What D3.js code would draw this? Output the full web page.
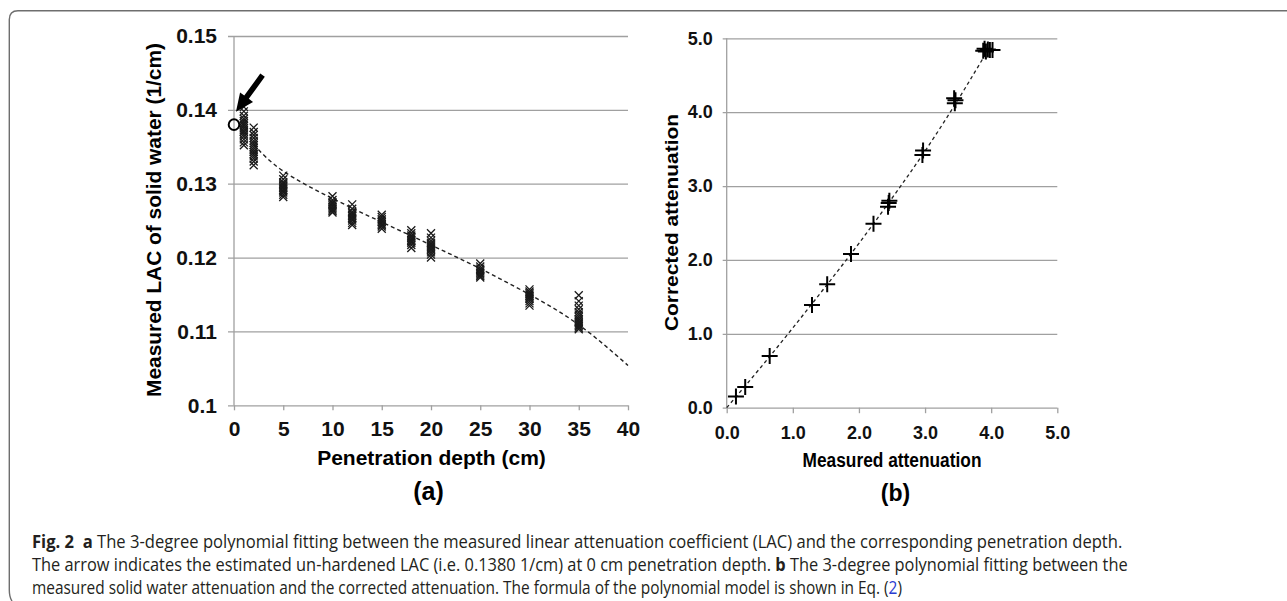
<!DOCTYPE html>
<html>
<head>
<meta charset="UTF-8">
<title>Fig. 2</title>
<script src="https://cdn.jsdelivr.net/npm/d3@7"></script>
<style>
body { margin: 0; background: #fff; }
svg { display: block; font-family: "Liberation Sans", Arial, sans-serif; }
.grid line { stroke: #a0a0a0; stroke-width: 1.3; }
.grid path { display: none; }
.lbl path, .lbl line { display: none; }
.lbl text { font-weight: bold; fill: #111; }
.cap { font-family: "Open Sans", "Noto Sans", sans-serif; font-size: 18.5px; fill: #231f20; white-space: pre; }
</style>
</head>
<body>
<svg width="1287" height="601"></svg>
<script>
// ---- panel (a) data: measured LAC at each penetration depth ----
var depths = [1, 2, 5, 10, 12, 15, 18, 20, 25, 30, 35];
var lacValues = [
  [0.1404, 0.1398, 0.1392, 0.1388, 0.1385, 0.1382, 0.1380, 0.1378, 0.1375, 0.1372, 0.1370, 0.1367, 0.1364, 0.1360, 0.1356, 0.1352],
  [0.1376, 0.1370, 0.1366, 0.1362, 0.1358, 0.1355, 0.1352, 0.1349, 0.1346, 0.1343, 0.1340, 0.1337, 0.1334, 0.1330, 0.1325],
  [0.1311, 0.1306, 0.1302, 0.1300, 0.1298, 0.1296, 0.1294, 0.1292, 0.1290, 0.1288, 0.1285, 0.1282],
  [0.1283, 0.1278, 0.1275, 0.1273, 0.1271, 0.1269, 0.1267, 0.1265, 0.1263, 0.1261],
  [0.1272, 0.1266, 0.1262, 0.1260, 0.1258, 0.1256, 0.1254, 0.1252, 0.1250, 0.1247, 0.1244],
  [0.1258, 0.1255, 0.1252, 0.1250, 0.1248, 0.1246, 0.1244, 0.1242, 0.1239],
  [0.1237, 0.1233, 0.1230, 0.1228, 0.1226, 0.1224, 0.1222, 0.1220, 0.1217, 0.1213],
  [0.1233, 0.1227, 0.1223, 0.1220, 0.1218, 0.1216, 0.1214, 0.1212, 0.1210, 0.1207, 0.1204, 0.1200],
  [0.1192, 0.1188, 0.1185, 0.1183, 0.1181, 0.1179, 0.1177, 0.1175, 0.1173],
  [0.1157, 0.1154, 0.1152, 0.1150, 0.1148, 0.1146, 0.1144, 0.1141, 0.1138, 0.1135],
  [0.1149, 0.1141, 0.1135, 0.1130, 0.1126, 0.1123, 0.1120, 0.1117, 0.1115, 0.1113, 0.1111, 0.1109, 0.1107, 0.1105, 0.1103]
];
// fitted curve (a)
var fitDepth = [2, 5, 10, 15, 20, 25, 30, 35, 40];
var fitLac = [0.1353, 0.1317, 0.1280, 0.1248, 0.1217, 0.1185, 0.1150, 0.1109, 0.1054];
var unhardened = {depth: 0, lac: 0.1380};
var xTicksA = [0, 5, 10, 15, 20, 25, 30, 35, 40];
var yTicksA = [0.1, 0.11, 0.12, 0.13, 0.14, 0.15];
var yLabelsA = ["0.1", "0.11", "0.12", "0.13", "0.14", "0.15"];

// ---- panel (b) data ----
var measured = [0.14, 0.28, 0.65, 1.29, 1.52, 1.88, 2.22, 2.44, 2.45, 2.46, 2.96, 2.97, 3.44, 3.45, 3.46, 3.88, 3.90, 3.92, 3.95, 3.98, 4.02];
var corrected = [0.15, 0.28, 0.70, 1.39, 1.67, 2.08, 2.49, 2.72, 2.77, 2.80, 3.42, 3.48, 4.19, 4.12, 4.16, 4.83, 4.86, 4.82, 4.85, 4.84, 4.84];
var fitMeasured = [0, 0.5, 1.0, 1.5, 2.0, 2.5, 3.0, 3.5, 3.95];
var fitCorrected = [0, 0.53, 1.08, 1.645, 2.225, 2.835, 3.475, 4.17, 4.84];
var ticksB = [0, 1, 2, 3, 4, 5];

var svg = d3.select("svg");

// figure frame (rounded top-left corner, open on the right)
svg.append("path")
    .attr("d", "M1287,10.7 L18,10.7 Q9.3,10.7 9.3,19.5 L9.3,590 Q9.3,597 12,601")
    .attr("fill", "none")
    .attr("stroke", "#6e6e6e")
    .attr("stroke-width", 1.4);

// ================= panel (a) =================
var xA = d3.scaleLinear().domain([0, 40]).range([234, 628]);
var yA = d3.scaleLinear().domain([0.1, 0.15]).range([405.3, 36]);

svg.append("g")
    .attr("class", "grid")
    .attr("transform", "translate(228,0)")
    .call(d3.axisLeft(yA).tickValues(yTicksA).tickSize(-(628 - 228)).tickFormat(""));

svg.append("line")
    .attr("x1", xA(0)).attr("x2", xA(0))
    .attr("y1", yA(0.15)).attr("y2", yA(0.1))
    .attr("stroke", "#a0a0a0").attr("stroke-width", 1.3);

svg.append("g")
    .attr("class", "grid")
    .attr("transform", "translate(0," + yA(0.1) + ")")
    .call(d3.axisBottom(xA).tickValues(xTicksA).tickSize(5).tickFormat(""));

svg.append("g")
    .attr("class", "lbl")
    .attr("transform", "translate(" + xA(0) + ",0)")
    .call(d3.axisLeft(yA).tickValues(yTicksA).tickSize(0).tickPadding(17)
      .tickFormat(function(d, i) { return yLabelsA[i]; }))
    .selectAll("text").style("font-size", "21px");

svg.append("g")
    .attr("class", "lbl")
    .attr("transform", "translate(0," + yA(0.1) + ")")
    .call(d3.axisBottom(xA).tickValues(xTicksA).tickSize(0).tickPadding(16))
    .selectAll("text").style("font-size", "21px");

// fitted dashed curve
var lineA = d3.line()
    .x(function(d, i) { return xA(fitDepth[i]); })
    .y(function(d) { return yA(d); })
    .curve(d3.curveNatural);

svg.append("path")
    .attr("d", lineA(fitLac))
    .attr("fill", "none")
    .attr("stroke", "#222")
    .attr("stroke-width", 1.4)
    .attr("stroke-dasharray", "4,3");

// x markers
var pointsA = [];
depths.forEach(function(dp, i) {
  lacValues[i].forEach(function(v) { pointsA.push({d: dp, v: v}); });
});

svg.append("g").selectAll("path")
    .data(pointsA)
  .enter().append("path")
    .attr("transform", function(p) { return "translate(" + xA(p.d) + "," + yA(p.v) + ")"; })
    .attr("d", "M-4,-4L4,4M-4,4L4,-4")
    .attr("stroke", "#1a1a1a")
    .attr("stroke-width", 1.3)
    .attr("fill", "none");

// estimated un-hardened LAC
svg.append("circle")
    .attr("cx", xA(unhardened.depth))
    .attr("cy", yA(unhardened.lac))
    .attr("r", 5.3)
    .attr("fill", "none")
    .attr("stroke", "#000")
    .attr("stroke-width", 2);

// arrow pointing at it
var tail = [xA(2.9), yA(0.1447)], tip = [xA(0.2), yA(0.13974)];
var dx = tip[0] - tail[0], dy = tip[1] - tail[1];
var len = Math.sqrt(dx * dx + dy * dy);
var ux = dx / len, uy = dy / len, nx = -uy, ny = ux;
var headL = 18, headW = 8, shaftW = 2.8;
var bx = tip[0] - ux * headL, by = tip[1] - uy * headL;
var arrowPts = [
  [tail[0] + nx * shaftW, tail[1] + ny * shaftW],
  [bx + nx * shaftW, by + ny * shaftW],
  [bx + nx * headW, by + ny * headW],
  tip,
  [bx - nx * headW, by - ny * headW],
  [bx - nx * shaftW, by - ny * shaftW],
  [tail[0] - nx * shaftW, tail[1] - ny * shaftW]
];
svg.append("path")
    .attr("d", "M" + arrowPts.join("L") + "Z")
    .attr("fill", "#000");

// axis titles
svg.append("text")
    .attr("x", 431.5).attr("y", 465)
    .attr("text-anchor", "middle")
    .style("font-size", "21px").style("font-weight", "bold")
    .text("Penetration depth (cm)");

svg.append("text")
    .attr("transform", "translate(161,220) rotate(-90)")
    .attr("text-anchor", "middle")
    .attr("textLength", 354).attr("lengthAdjust", "spacingAndGlyphs")
    .style("font-size", "21px").style("font-weight", "bold")
    .text("Measured LAC of solid water (1/cm)");

svg.append("text")
    .attr("x", 428.5).attr("y", 500)
    .attr("text-anchor", "middle")
    .style("font-size", "25px").style("font-weight", "bold")
    .text("(a)");

// ================= panel (b) =================
var xB = d3.scaleLinear().domain([0, 5]).range([726.7, 1057.3]);
var yB = d3.scaleLinear().domain([0, 5]).range([407.7, 38.3]);

svg.append("g")
    .attr("class", "grid")
    .attr("transform", "translate(722.7,0)")
    .call(d3.axisLeft(yB).tickValues(ticksB).tickSize(-(1057.3 - 722.7)).tickFormat(""));

svg.append("line")
    .attr("x1", xB(0)).attr("x2", xB(0))
    .attr("y1", yB(5)).attr("y2", yB(0))
    .attr("stroke", "#a0a0a0").attr("stroke-width", 1.3);

svg.append("g")
    .attr("class", "grid")
    .attr("transform", "translate(0," + yB(0) + ")")
    .call(d3.axisBottom(xB).tickValues(ticksB).tickSize(5.5).tickFormat(""));

svg.append("g")
    .attr("class", "lbl")
    .attr("transform", "translate(" + xB(0) + ",0)")
    .call(d3.axisLeft(yB).tickValues(ticksB).tickSize(0).tickPadding(14).tickFormat(d3.format(".1f")))
    .selectAll("text").style("font-size", "18px");

svg.append("g")
    .attr("class", "lbl")
    .attr("transform", "translate(0," + yB(0) + ")")
    .call(d3.axisBottom(xB).tickValues(ticksB).tickSize(0).tickPadding(19).tickFormat(d3.format(".1f")))
    .selectAll("text").style("font-size", "18px");

var lineB = d3.line()
    .x(function(d, i) { return xB(fitMeasured[i]); })
    .y(function(d) { return yB(d); })
    .curve(d3.curveNatural);

svg.append("path")
    .attr("d", lineB(fitCorrected))
    .attr("fill", "none")
    .attr("stroke", "#222")
    .attr("stroke-width", 1.3)
    .attr("stroke-dasharray", "3.5,3");

svg.append("g").selectAll("path")
    .data(measured)
  .enter().append("path")
    .attr("transform", function(d, i) { return "translate(" + xB(d) + "," + yB(corrected[i]) + ")"; })
    .attr("d", "M-8,0L8,0M0,-8L0,8")
    .attr("stroke", "#000")
    .attr("stroke-width", 2)
    .attr("fill", "none");

svg.append("text")
    .attr("x", 892).attr("y", 467)
    .attr("text-anchor", "middle")
    .attr("textLength", 179).attr("lengthAdjust", "spacingAndGlyphs")
    .style("font-size", "19.5px").style("font-weight", "bold")
    .text("Measured attenuation");

svg.append("text")
    .attr("transform", "translate(678,222.5) rotate(-90)")
    .attr("text-anchor", "middle")
    .attr("textLength", 217).attr("lengthAdjust", "spacingAndGlyphs")
    .style("font-size", "17.5px").style("font-weight", "bold")
    .text("Corrected attenuation");

svg.append("text")
    .attr("x", 895.5).attr("y", 501)
    .attr("text-anchor", "middle")
    .style("font-size", "23px").style("font-weight", "bold")
    .text("(b)");

// ================= caption =================
var capLines = [
  {y: 548, w: 1091, parts: [["Fig. 2", true], ["  ", false], ["a", true],
    [" The 3-degree polynomial fitting between the measured linear attenuation coefficient (LAC) and the corresponding penetration depth.", false]]},
  {y: 571, w: 1096, parts: [["The arrow indicates the estimated un-hardened LAC (i.e. 0.1380 1/cm) at 0 cm penetration depth. ", false], ["b", true],
    [" The 3-degree polynomial fitting between the", false]]},
  {y: 593.5, w: 871, parts: [["measured solid water attenuation and the corrected attenuation. The formula of the polynomial model is shown in Eq. (", false],
    ["2", false, "#2a3cd0"], [")", false]]}
];

// squeeze each line horizontally to the width it has in the figure
capLines.forEach(function(l) {
  var t = svg.append("text")
      .attr("class", "cap")
      .attr("x", 0).attr("y", 0);
  l.parts.forEach(function(p) {
    t.append("tspan")
        .style("font-weight", p[1] ? "bold" : "normal")
        .style("fill", p[2] || null)
        .text(p[0]);
  });
  var natural = t.node().getComputedTextLength();
  t.attr("transform", "translate(32," + l.y + ") scale(" + (l.w / natural) + ",1)");
});
</script>
</body>
</html>
